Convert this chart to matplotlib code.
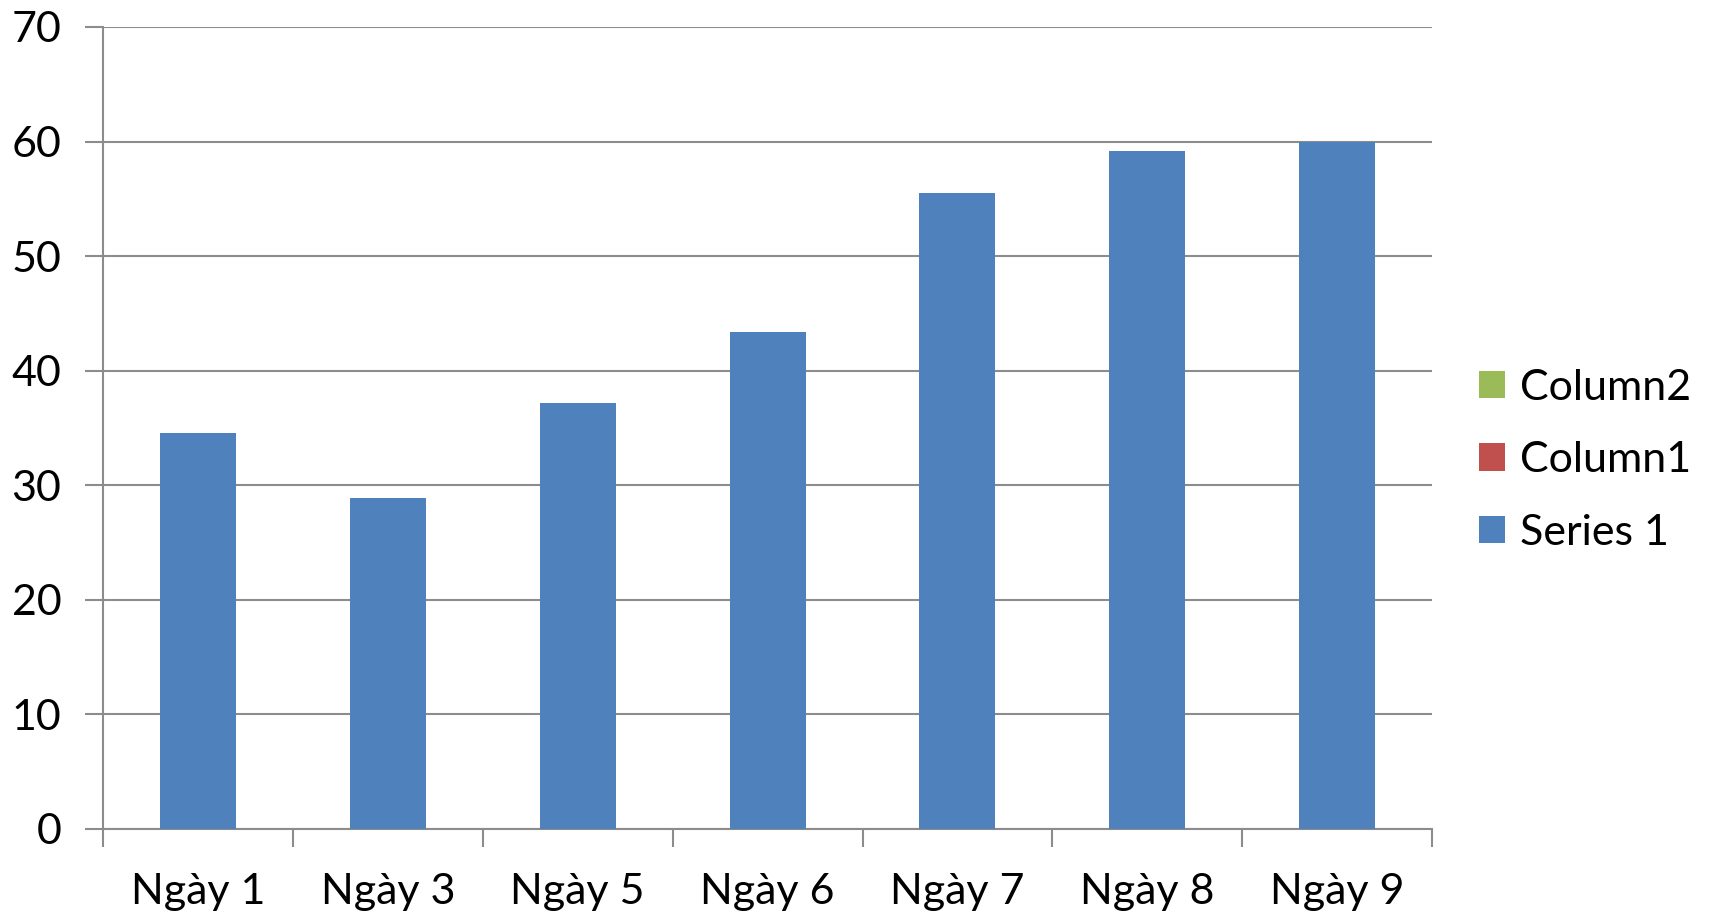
import numpy as np
import matplotlib
matplotlib.use("Agg")
import matplotlib.pyplot as plt
from matplotlib.patches import Patch
from matplotlib.ticker import MultipleLocator, FixedLocator

plt.rcParams['font.family'] = ['Lato', 'DejaVu Sans']

ngay = ['Ngày 1', 'Ngày 3', 'Ngày 5', 'Ngày 6', 'Ngày 7', 'Ngày 8', 'Ngày 9']
series1 = [34.6, 28.9, 37.2, 43.4, 55.5, 59.2, 60.0]
legend_names = ['Column2', 'Column1', 'Series 1']
legend_colors = ['#9BBB59', '#C0504D', '#4F81BD']

fig = plt.figure(figsize=(17.09, 9.15), dpi=100)
ax = fig.add_axes([0.0603, 0.094, 0.7777, 0.8765])

x = np.arange(len(ngay))
ax.bar(x, series1, width=0.4, color='#4F81BD', zorder=3)

ax.set_xlim(-0.5, len(ngay) - 0.5)
ax.set_ylim(0, 70)
ax.yaxis.set_major_locator(MultipleLocator(10))
ax.grid(axis='y', color='#8C8C8C', linewidth=1.5, zorder=0)

for s in ['top', 'right']:
    ax.spines[s].set_visible(False)
for s in ['left', 'bottom']:
    ax.spines[s].set_color('#8C8C8C')
    ax.spines[s].set_linewidth(1.5)

ax.set_xticks(x)
ax.set_xticklabels(ngay)
ax.xaxis.set_minor_locator(FixedLocator(np.arange(-0.5, len(ngay), 1.0)))
ax.tick_params(axis='x', which='major', length=0, pad=32, labelsize=31)
ax.tick_params(axis='x', which='minor', length=13, width=1.5, color='#8C8C8C')
ax.tick_params(axis='y', which='major', length=13, width=1.5, color='#8C8C8C',
               pad=17, labelsize=31)

handles = [Patch(facecolor=c, edgecolor='none') for c in legend_colors]
fig.legend(handles, legend_names, loc='center left', bbox_to_anchor=(0.843, 0.497),
           frameon=False, fontsize=31, handlelength=0.6, handleheight=0.6,
           handletextpad=0.35, labelspacing=0.8)

fig.savefig('out.png', dpi=100)
